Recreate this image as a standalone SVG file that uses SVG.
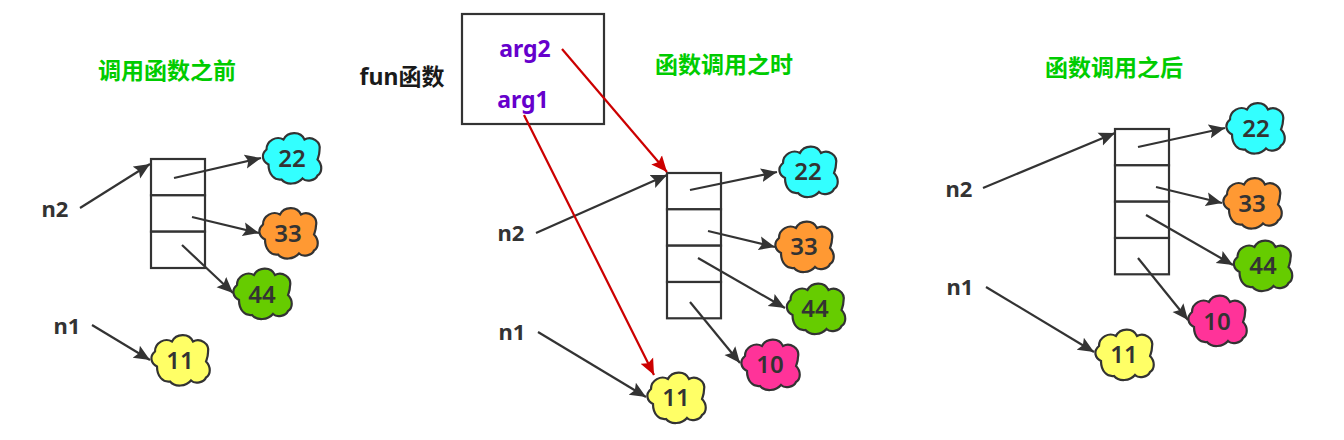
<svg xmlns="http://www.w3.org/2000/svg" width="1344" height="440" viewBox="0 0 1344 440">
<style>
text{font-family:"Noto Sans","Noto Sans CJK SC",sans-serif;font-weight:700;text-anchor:middle}
.title{font-size:23px;fill:#00cc00}
.lbl{font-size:22px;fill:#333333}
.fun{font-size:23px;fill:#1a1a1a}
.num{font-size:24px;font-weight:600;fill:#333333}
.arg{font-size:23px;fill:#6600cc}
.cell{fill:#ffffff;stroke:#333333;stroke-width:2.2}
.box{fill:#ffffff;stroke:#333333;stroke-width:2.2}
.cloud{stroke:#333333;stroke-width:2.2}
.c22{fill:#33ffff}.c33{fill:#ff9933}.c44{fill:#66cc00}.c11{fill:#ffff66}.c10{fill:#ff3399}
.k{fill:none;stroke:#333333;stroke-width:2.2;marker-end:url(#ak)}
.r{fill:none;stroke:#cc0000;stroke-width:2.2;marker-end:url(#ar)}
</style>
<defs>
<marker id="ak" markerUnits="userSpaceOnUse" markerWidth="17" markerHeight="16" viewBox="0 0 17 16" refX="16" refY="8" orient="auto"><path d="M0 1L16 8L0 15L3 8Z" fill="#333333"/></marker>
<marker id="ar" markerUnits="userSpaceOnUse" markerWidth="17" markerHeight="16" viewBox="0 0 17 16" refX="16" refY="8" orient="auto"><path d="M0 1L16 8L0 15L3 8Z" fill="#cc0000"/></marker>
<path id="cl" d="M-23 6C-29 3-31-4-25-9C-25-18-15-23-8-19C-4-27 9-28 13-19C20-23 30-17 28-8C28-4 27-2 26 1C31 6 31 14 26 17C24 22 15 24 11 20C6 26-5 27-10 21C-17 22-23 16-23 6Z"/>
</defs>

<g id="title-before"><text class="title" x="167" y="79">调用函数之前</text></g>
<g id="title-during"><text class="title" x="724" y="73">函数调用之时</text></g>
<g id="title-after"><text class="title" x="1114" y="76">函数调用之后</text></g>

<g id="fun-box">
<rect class="box" x="462" y="14" width="142" height="110"/>
<text class="fun" x="402" y="85">fun函数</text>
<text class="arg" x="525" y="57">arg2</text>
<text class="arg" x="523" y="108">arg1</text>
</g>

<g id="list-before">
<rect class="cell" x="151" y="159" width="54" height="36.3"/>
<rect class="cell" x="151" y="195.3" width="54" height="36.3"/>
<rect class="cell" x="151" y="231.7" width="54" height="36.3"/>
</g>
<g id="list-during">
<rect class="cell" x="667" y="173" width="54" height="36.3"/>
<rect class="cell" x="667" y="209.3" width="54" height="36.3"/>
<rect class="cell" x="667" y="245.7" width="54" height="36.3"/>
<rect class="cell" x="667" y="282" width="54" height="36.3"/>
</g>
<g id="list-after">
<rect class="cell" x="1115" y="129" width="54" height="36.3"/>
<rect class="cell" x="1115" y="165.3" width="54" height="36.3"/>
<rect class="cell" x="1115" y="201.7" width="54" height="36.3"/>
<rect class="cell" x="1115" y="238" width="54" height="36.3"/>
</g>

<g id="connectors">
<path class="k" d="M80 208L150 164"/>
<path class="k" d="M174 178L261 158"/>
<path class="k" d="M192 217L259 233"/>
<path class="k" d="M182 245L233 293"/>
<path class="k" d="M92 325L150 360"/>
<path class="k" d="M536 233L667 175"/>
<path class="k" d="M690 190L777 172"/>
<path class="k" d="M708 231L775 247"/>
<path class="k" d="M698 258L785 308"/>
<path class="k" d="M690 302L740 363"/>
<path class="k" d="M538 332L646 397"/>
<path class="k" d="M983 188L1115 133"/>
<path class="k" d="M1138 147L1225 128"/>
<path class="k" d="M1156 187L1222 203"/>
<path class="k" d="M1146 215L1233 265"/>
<path class="k" d="M1138 258L1188 320"/>
<path class="k" d="M986 287L1094 352"/>
<path class="r" d="M562 49L667 172"/>
<path class="r" d="M524 115L654 375"/>
</g>

<g id="n2-before"><text class="lbl" x="55" y="217">n2</text></g>
<g id="n1-before"><text class="lbl" x="67" y="334">n1</text></g>
<g id="n2-during"><text class="lbl" x="511" y="241">n2</text></g>
<g id="n1-during"><text class="lbl" x="512" y="340">n1</text></g>
<g id="n2-after"><text class="lbl" x="959" y="197">n2</text></g>
<g id="n1-after"><text class="lbl" x="960" y="295">n1</text></g>

<g id="v22-before"><use href="#cl" class="cloud c22" x="291.5" y="158.5"/><text class="num" x="292" y="167">22</text></g>
<g id="v33-before"><use href="#cl" class="cloud c33" x="288" y="233.5"/><text class="num" x="288" y="242">33</text></g>
<g id="v44-before"><use href="#cl" class="cloud c44" x="262" y="294"/><text class="num" x="262" y="303">44</text></g>
<g id="v11-before"><use href="#cl" class="cloud c11" x="180" y="360.5"/><text class="num" x="180" y="369">11</text></g>

<g id="v22-during"><use href="#cl" class="cloud c22" x="808" y="172"/><text class="num" x="808" y="180">22</text></g>
<g id="v33-during"><use href="#cl" class="cloud c33" x="804" y="247"/><text class="num" x="804" y="255">33</text></g>
<g id="v44-during"><use href="#cl" class="cloud c44" x="815.5" y="309"/><text class="num" x="815" y="317">44</text></g>
<g id="v10-during"><use href="#cl" class="cloud c10" x="770" y="365"/><text class="num" x="770" y="373">10</text></g>
<g id="v11-during"><use href="#cl" class="cloud c11" x="676" y="398"/><text class="num" x="676" y="406">11</text></g>

<g id="v22-after"><use href="#cl" class="cloud c22" x="1255" y="128.5"/><text class="num" x="1256" y="136.5">22</text></g>
<g id="v33-after"><use href="#cl" class="cloud c33" x="1252" y="203.5"/><text class="num" x="1252" y="212">33</text></g>
<g id="v44-after"><use href="#cl" class="cloud c44" x="1262.5" y="266"/><text class="num" x="1263" y="274">44</text></g>
<g id="v10-after"><use href="#cl" class="cloud c10" x="1217" y="321"/><text class="num" x="1217" y="330">10</text></g>
<g id="v11-after"><use href="#cl" class="cloud c11" x="1124" y="355"/><text class="num" x="1124" y="363">11</text></g>
</svg>
